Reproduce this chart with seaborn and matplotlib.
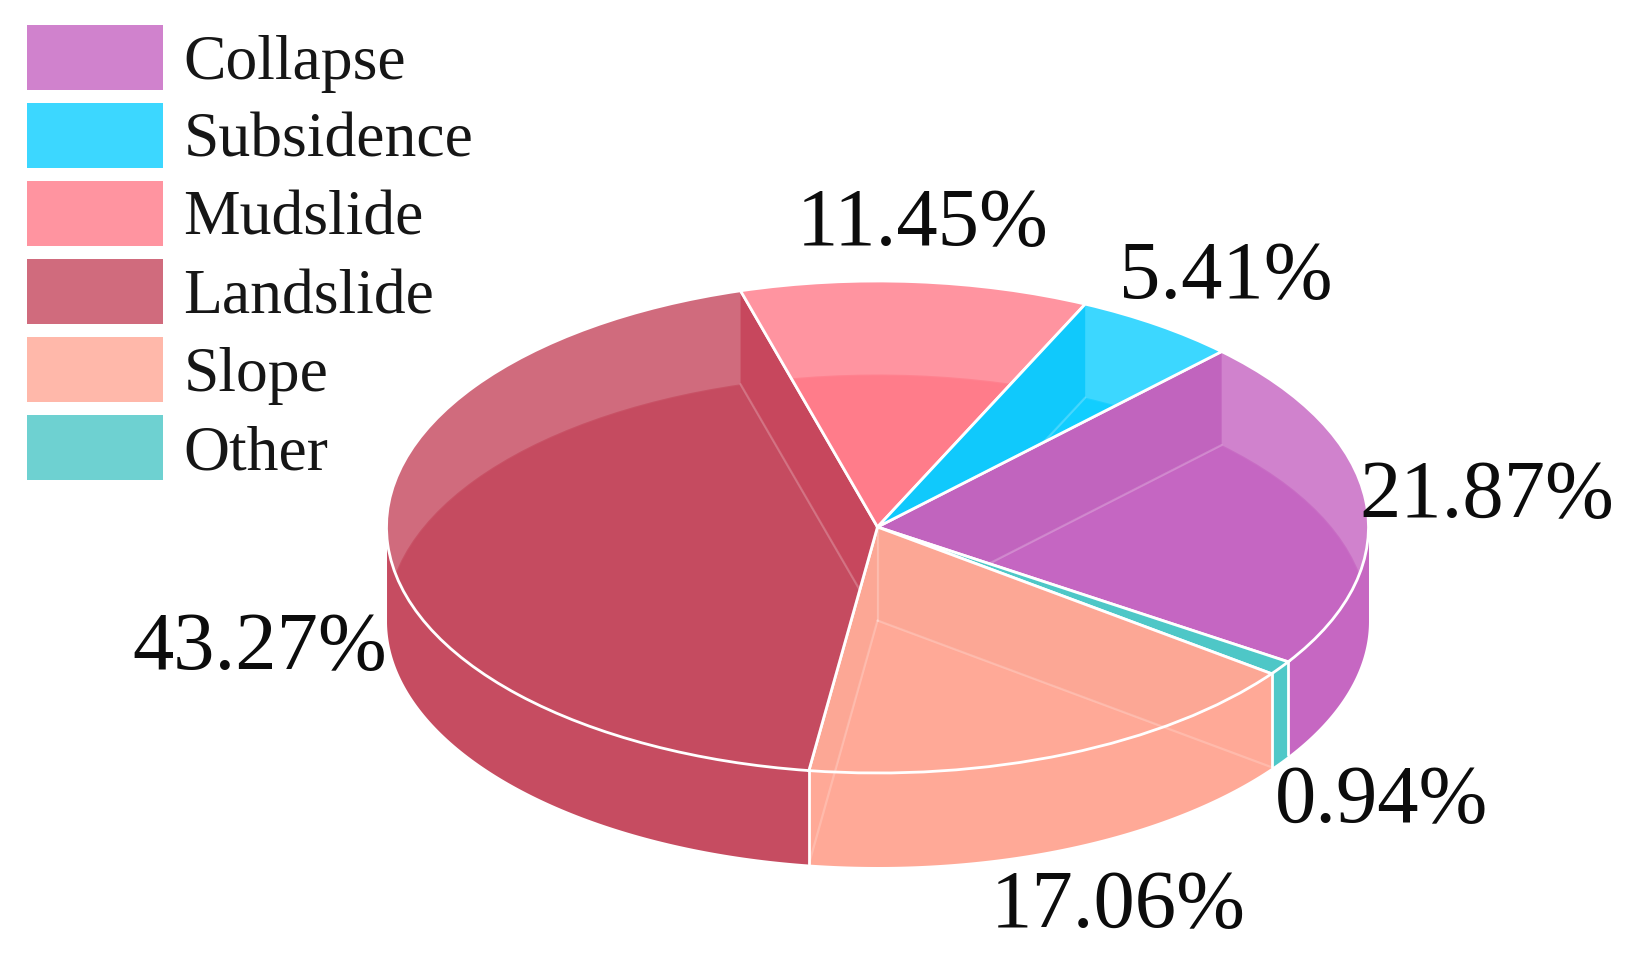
import numpy as np
import pandas as pd
import matplotlib
matplotlib.use('Agg')
import matplotlib.pyplot as plt
from matplotlib.patches import Patch, Polygon
import seaborn as sns

# legend order
categories = ['Collapse', 'Subsidence', 'Mudslide', 'Landslide', 'Slope', 'Other']
shares = [21.87, 5.41, 11.45, 43.27, 17.06, 0.94]
hex_colors = ['#c35fbf', '#05ccff', '#ff7685', '#c34258', '#ffa592', '#45c5c5']
wall_colors = ['#ab52a8', '#00aef0', '#ff7685', '#cf2f4a', '#f29c88', '#45c5c5']
# clockwise order round the pie
pie_order = ['Collapse', 'Other', 'Slope', 'Landslide', 'Mudslide', 'Subsidence']

sns.set_theme(style='white')
plt.rcParams['font.family'] = ['Liberation Serif', 'DejaVu Serif']

df = pd.DataFrame({'share': shares, 'color': hex_colors, 'wall': wall_colors}, index=categories)
pie_df = df.loc[pie_order]

W, H = 1629, 958
CX, CY = 877.5, 527    # centre of top face, px
RX, RY = 491, 246      # radii of top face, px
DEPTH = 93.5 / RY      # thickness in y units
START = 45.5
ALPHA = 0.78
ALPHA2 = 0.95          # look of two stacked layers

fig = plt.figure(figsize=(W / 100, H / 100), dpi=100)
ax = fig.add_axes([0, 0, 1, 1])


def rgba(color, alpha):
    return (*sns.color_palette([color])[0], alpha)


face = [rgba(c, ALPHA) for c in pie_df['color']]

# bottom disc, then top disc
bottom, _ = ax.pie(pie_df['share'], startangle=START, counterclock=False, center=(0, -DEPTH),
                   colors=face, wedgeprops=dict(edgecolor=(1, 1, 1, 0.22), linewidth=1.6))
top, _ = ax.pie(pie_df['share'], startangle=START, counterclock=False,
                colors=face, wedgeprops=dict(edgecolor='white', linewidth=2))

ax.set_aspect('auto')
ax.set_xlim(-CX / RX, (W - CX) / RX)
ax.set_ylim(-(H - CY) / RY, CY / RY)
ax.set_axis_off()

edges = START - 3.6 * np.r_[0, pie_df['share'].cumsum().to_numpy()]

for i, (name, row) in enumerate(pie_df.iterrows()):
    a0, a1 = edges[i], edges[i + 1]

    # the lower disc only shows through its own slice (pie turns clipping off)
    bottom[i].set_clip_on(True)
    bottom[i].set_clip_path(top[i])

    # outer wall, front half only
    t = np.radians(np.linspace(a0, a1, 200))
    t = t[np.sin(t) <= 0]
    if len(t):
        ax.fill_between(np.cos(t), np.sin(t), np.sin(t) - DEPTH,
                        color=rgba(row['color'], ALPHA2), linewidth=0, zorder=1.5)

    # radial walls seen through the top face
    for ang, sign in ((a0, 1), (a1, -1)):
        r = np.radians(ang)
        if sign * np.cos(r) <= 0:
            continue
        x, y = np.cos(r), np.sin(r)
        wall = Polygon([(0, 0), (x, y), (x, y - DEPTH), (0, -DEPTH)], closed=True,
                       facecolor=rgba(row['wall'], ALPHA), edgecolor='none', zorder=1.6)
        ax.add_patch(wall)
        wall.set_clip_path(top[i])
        if name == 'Other':
            continue
        # faint lower edge of that wall; front ones run on into the outer wall
        low, = ax.plot([0, x], [-DEPTH, y - DEPTH], color=(1, 1, 1, 0.2), lw=1.6, zorder=2.5)
        if y > 0:
            low.set_clip_path(top[i])
        centre, = ax.plot([0, 0], [0, -DEPTH], color=(1, 1, 1, 0.12), lw=1.6, zorder=2.5)
        centre.set_clip_path(top[i])

# white seams on the front wall
for ang in edges:
    r = np.radians(ang)
    if np.sin(r) < 0:
        ax.plot([np.cos(r)] * 2, [np.sin(r), np.sin(r) - DEPTH], color='white', lw=2, zorder=3)

# top face sits above the walls
for wedge in top:
    wedge.set_zorder(2)

labels = ['21.87%', '0.94%', '17.06%', '43.27%', '11.45%', '5.41%']
label_px = [(1487, 497), (1382, 802), (1118, 907), (260, 649), (923, 225), (1226, 278)]
for txt, (px, py) in zip(labels, label_px):
    ax.text(px / W, 1 - py / H, txt, transform=ax.transAxes, fontsize=59.5,
            color='#0c0c0c', ha='center', va='center')

handles = [Patch(facecolor=rgba(c, ALPHA), edgecolor='none') for c in df['color']]
leg = ax.legend(handles, df.index, loc='upper left', bbox_to_anchor=(27 / W, 1 - 25 / H),
                bbox_transform=ax.transAxes, frameon=False, fontsize=45.8, borderpad=0,
                borderaxespad=0, handlelength=2.14, handleheight=1.19,
                handletextpad=0.32, labelspacing=0.16, labelcolor='#161616')

fig.savefig('out.png', dpi=100, facecolor='white')
